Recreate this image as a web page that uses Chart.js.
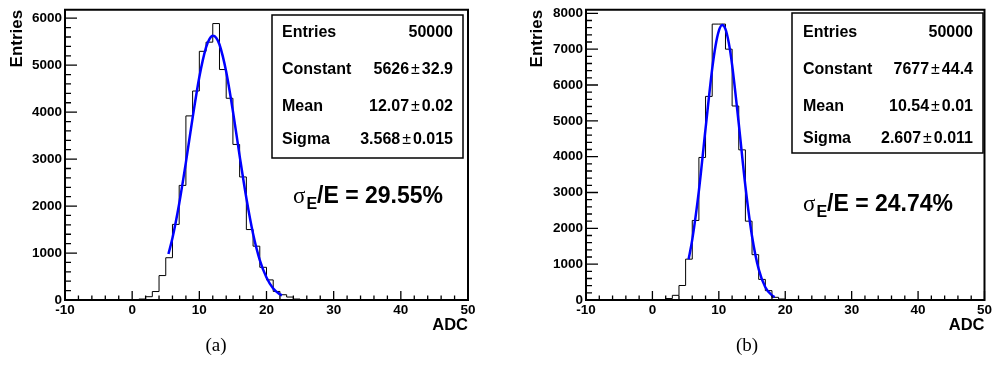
<!DOCTYPE html>
<html>
<head>
<meta charset="utf-8">
<script src="https://cdn.jsdelivr.net/npm/chart.js@4/dist/chart.umd.min.js"></script>
<style>
  body { margin: 0; background: #fff; width: 996px; height: 387px; position: relative; overflow: hidden; }
  canvas { position: absolute; top: 0; }
  .cap { position: absolute; top: 334px; width: 60px; text-align: center; font: 19px "Liberation Serif", serif; color: #000; }
</style>
</head>
<body>
<canvas id="histA" width="498" height="340" style="left:0"></canvas>
<canvas id="histB" width="498" height="340" style="left:498px"></canvas>
<div class="cap" style="left:186px">(a)</div>
<div class="cap" style="left:717px">(b)</div>
<script>
// bin contents, one per unit-wide bin starting at binStart
const binStartA = 0;
const countsA = [3, 20, 70, 180, 520, 900, 1610, 2440, 3920, 4450, 5295, 5490, 5886, 4907, 4295, 3312, 2620, 1500, 1146, 696, 428, 182, 112, 63, 20, 5];
const binStartB = 0;
const countsB = [3, 12, 40, 130, 405, 1140, 2220, 3978, 5682, 7700, 7700, 7000, 5414, 4190, 2200, 1265, 575, 262, 75, 28, 5];

// fitted curve
const fitXA = [5.4, 6, 7, 8, 9, 10, 11, 11.5, 12, 12.5, 13, 14, 15, 16, 17, 18, 19, 20, 21, 22, 22.3];
const fitYA = [980, 1320, 2050, 2930, 3880, 4750, 5380, 5555, 5625, 5585, 5440, 4860, 4020, 3070, 2170, 1410, 850, 480, 245, 120, 100];
const fitXB = [5.45, 6, 7, 8, 9, 9.5, 10, 10.5, 11, 11.5, 12, 13, 14, 15, 16, 17, 18, 18.4];
const fitYB = [1140, 1685, 3050, 4780, 6450, 7090, 7510, 7675, 7560, 7175, 6560, 4920, 3180, 1780, 860, 355, 130, 80];

// axis tick labels
const xTickVals = [-10, 0, 10, 20, 30, 40, 50];
const yTickValsA = [0, 1000, 2000, 3000, 4000, 5000, 6000];
const yTickValsB = [0, 1000, 2000, 3000, 4000, 5000, 6000, 7000, 8000];

const statNames = ["Entries", "Constant", "Mean", "Sigma"];
const statsA = [["50000"], ["5626", "32.9"], ["12.07", "0.02"], ["3.568", "0.015"]];
const statsB = [["50000"], ["7677", "44.4"], ["10.54", "0.01"], ["2.607", "0.011"]];
const resA = "29.55%";
const resB = "24.74%";

Chart.defaults.font.family = '"Liberation Sans", Arial, sans-serif';
Chart.defaults.color = '#000';

const bold = s => `bold ${s}px "Liberation Sans", Arial, sans-serif`;

const drawValue = (ctx, parts, xr, y) => {
  ctx.textAlign = 'right';
  ctx.font = bold(16);
  if (parts.length === 1) { ctx.fillText(parts[0], xr, y); return; }
  ctx.fillText(parts[1], xr, y);
  let x = xr - ctx.measureText(parts[1]).width - 2;
  ctx.font = '16px "Liberation Sans", Arial, sans-serif';
  ctx.fillText('\u00b1', x, y);
  x -= ctx.measureText('\u00b1').width + 2;
  ctx.font = bold(16);
  ctx.fillText(parts[0], x, y);
};

const framePlugin = {
  id: 'frame',
  afterDraw(chart, args, o) {
    const { ctx, chartArea: a, scales: { x, y } } = chart;
    ctx.save();
    ctx.strokeStyle = '#000';
    ctx.lineWidth = 1.3;
    ctx.beginPath();
    // inward ticks, minor every 200 / 2 units
    for (let v = 0; v <= y.max; v += 200) {
      const py = y.getPixelForValue(v);
      ctx.moveTo(a.left, py);
      ctx.lineTo(a.left + (v % 1000 === 0 ? 12 : 6), py);
    }
    for (let v = x.min; v <= x.max; v += 2) {
      const px = x.getPixelForValue(v);
      ctx.moveTo(px, a.bottom);
      ctx.lineTo(px, a.bottom - (v % 10 === 0 ? 9 : 4.5));
    }
    ctx.stroke();
    ctx.lineWidth = 2;
    ctx.strokeRect(a.left, a.top, a.right - a.left, a.bottom - a.top);

    // stats box
    const b = o.box;
    ctx.fillStyle = '#fff';
    ctx.fillRect(b[0], b[1], b[2], b[3]);
    ctx.lineWidth = 1.5;
    ctx.strokeRect(b[0], b[1], b[2], b[3]);
    ctx.fillStyle = '#000';
    ctx.textBaseline = 'middle';
    statNames.forEach((name, i) => {
      ctx.textAlign = 'left';
      ctx.font = bold(16);
      ctx.fillText(name, o.nameX, o.rows[i]);
      drawValue(ctx, o.stats[i], o.valueX, o.rows[i]);
    });

    // resolution label
    ctx.textBaseline = 'alphabetic';
    ctx.textAlign = 'left';
    let tx = o.res[0];
    const ty = o.res[1];
    ctx.font = '23px "Liberation Serif", serif';
    ctx.fillText('\u03c3', tx, ty);
    tx += ctx.measureText('\u03c3').width + 1;
    ctx.font = bold(16);
    ctx.fillText('E', tx, ty + 6);
    tx += ctx.measureText('E').width;
    ctx.font = bold(23);
    ctx.fillText('/E = ' + o.resText, tx, ty);
    ctx.restore();
  }
};

const makeHist = (id, start, counts, fitX, fitY, yTickVals, cfg) => {
  const histPts = [{ x: start, y: 0 }, ...counts.map((c, i) => ({ x: start + i, y: c })), { x: start + counts.length, y: 0 }];
  const fitPts = fitX.map((v, i) => ({ x: v, y: fitY[i] }));
  new Chart(document.getElementById(id), {
    type: 'line',
    data: {
      datasets: [
        { data: fitPts, borderColor: '#0000ff', borderWidth: 2.5, pointRadius: 0, cubicInterpolationMode: 'monotone', fill: false },
        { data: histPts, borderColor: '#000', borderWidth: 1, pointRadius: 0, stepped: 'before', fill: false }
      ]
    },
    options: {
      responsive: false,
      animation: false,
      devicePixelRatio: 1,
      layout: { padding: { left: cfg.padLeft, right: cfg.padRight, top: 7, bottom: 0 } },
      plugins: { legend: { display: false }, tooltip: { enabled: false }, frame: cfg },
      scales: {
        x: {
          type: 'linear', min: xTickVals[0], max: xTickVals[xTickVals.length - 1],
          afterBuildTicks: s => { s.ticks = xTickVals.map(v => ({ value: v })); },
          afterFit: s => { s.height = 40; },
          grid: { display: false, drawTicks: false },
          border: { display: false },
          ticks: { padding: 4, autoSkip: false, maxRotation: 0, callback: v => String(v), font: { size: 13.5, weight: 'bold', lineHeight: 1 } },
          title: { display: true, text: 'ADC', align: 'end', font: { size: 16.5, weight: 'bold' }, padding: { top: 0, bottom: 5 } }
        },
        y: {
          min: 0, max: cfg.yMax,
          afterBuildTicks: s => { s.ticks = yTickVals.map(v => ({ value: v })); },
          afterFit: s => { s.width = cfg.yWidth; },
          grid: { display: false, drawTicks: false },
          border: { display: false },
          ticks: { padding: 3, autoSkip: false, callback: v => String(v), font: { size: 13.5, weight: 'bold', lineHeight: 1 } },
          title: { display: true, text: 'Entries', align: 'end', font: { size: 17, weight: 'bold' }, padding: { top: cfg.titlePad, bottom: 0 } }
        }
      }
    },
    plugins: [framePlugin]
  });
};

makeHist('histA', binStartA, countsA, fitXA, fitYA, yTickValsA, {
  padLeft: 0, padRight: 30, yWidth: 65, yMax: 6180, titlePad: 7,
  box: [272, 15, 191, 143], nameX: 282, valueX: 453, rows: [33, 70, 107, 140],
  stats: statsA, res: [293, 203], resText: resA
});
makeHist('histB', binStartB, countsB, fitXB, fitYB, yTickValsB, {
  padLeft: 26, padRight: 7, yWidth: 62, yMax: 8100, titlePad: 3.3,
  box: [294, 13, 191, 140], nameX: 305, valueX: 475, rows: [33, 70, 107, 139],
  stats: statsB, res: [305, 211], resText: resB
});
</script>
</body>
</html>
